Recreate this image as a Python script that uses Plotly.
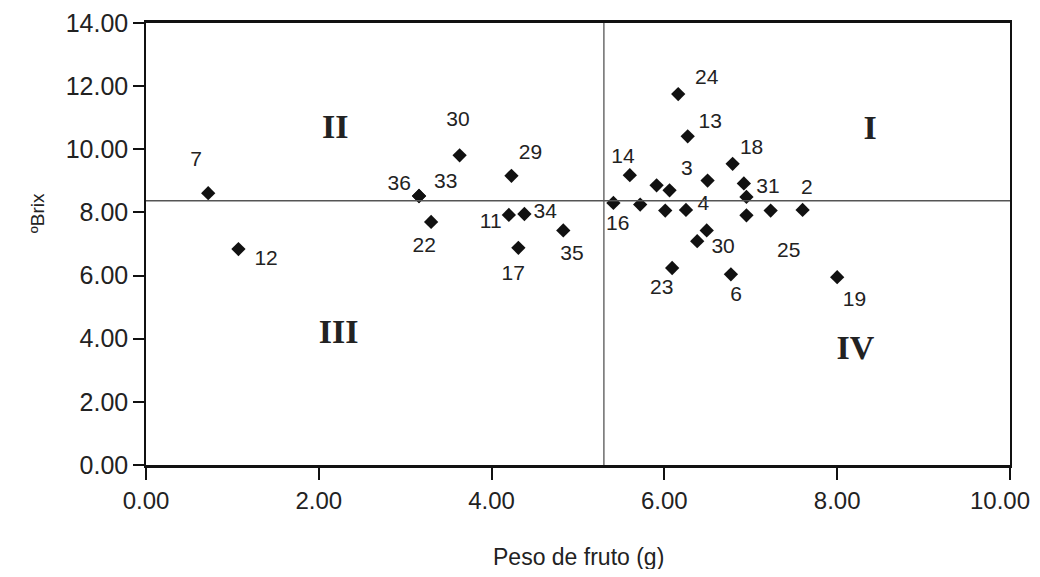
import plotly.graph_objects as go

# Data points (fruit weight g, ºBrix)
peso = [0.72, 1.07, 3.16, 3.16, 3.63, 3.30, 4.23, 4.20, 4.38, 4.31, 4.83,
        6.16, 6.27, 5.60, 5.41, 5.72, 5.91, 6.06, 6.01, 6.25, 6.50, 6.79,
        6.92, 6.95, 6.95, 7.23, 7.60, 6.49, 6.38, 6.09, 6.77, 8.00]
brix = [8.61, 6.84, 8.52, 8.52, 9.81, 7.70, 9.16, 7.92, 7.95, 6.88, 7.43,
        11.75, 10.41, 9.18, 8.30, 8.25, 8.86, 8.70, 8.06, 8.08, 9.01, 9.54,
        8.92, 8.49, 7.91, 8.06, 8.08, 7.43, 7.09, 6.24, 6.04, 5.95]

# Point labels (text and their positions in data units)
label_text = ["7", "12", "36", "33", "30", "22", "29", "11", "34", "17", "35",
              "24", "13", "14", "3", "18", "31", "2", "16", "4", "30", "25",
              "23", "6", "19"]
label_x = [0.58, 1.39, 2.93, 3.47, 3.61, 3.22, 4.45, 3.99, 4.62, 4.25, 4.93,
           6.49, 6.53, 5.52, 6.26, 7.01, 7.20, 7.65, 5.46, 6.45, 6.68, 7.44,
           5.97, 6.83, 8.20]
label_y = [9.63, 6.49, 8.87, 8.94, 10.92, 6.91, 9.85, 7.68, 7.98, 6.04, 6.67,
           12.22, 10.85, 9.73, 9.34, 10.01, 8.78, 8.76, 7.62, 8.25, 6.89, 6.75,
           5.58, 5.35, 5.20]

# Quadrant labels
quad_text = ["I", "II", "III", "IV"]
quad_x = [8.38, 2.19, 2.23, 8.21]
quad_y = [10.60, 10.64, 4.12, 3.64]

# Reference (mean) lines
mean_peso = 5.30
mean_brix = 8.37

x_ticks = [0, 2, 4, 6, 8, 10]
x_tick_labels = ["0.00", "2.00", "4.00", "6.00", "8.00", "10.00"]
y_ticks = [0, 2, 4, 6, 8, 10, 12, 14]

fig = go.Figure()

fig.add_trace(go.Scatter(
    x=peso, y=brix, mode="markers",
    marker=dict(symbol="diamond", size=11, color="#111111"),
    showlegend=False, hoverinfo="x+y"))

fig.add_trace(go.Scatter(
    x=label_x, y=label_y, mode="text", text=label_text,
    textposition="middle center",
    textfont=dict(family="Liberation Sans, Arial", size=21, color="#222222"),
    showlegend=False, hoverinfo="skip"))

fig.add_trace(go.Scatter(
    x=quad_x, y=quad_y, mode="text",
    text=["<b>%s</b>" % t for t in quad_text],
    textposition="middle center",
    textfont=dict(family="Liberation Serif, Times New Roman", size=34, color="#222222"),
    showlegend=False, hoverinfo="skip"))

fig.add_hline(y=mean_brix, line=dict(color="#555555", width=1.3))
fig.add_vline(x=mean_peso, line=dict(color="#555555", width=1.3))

title_font = dict(family="Liberation Sans, Arial", size=23, color="#222222")
xtick_font = dict(family="Liberation Sans, Arial", size=24, color="#222222")

# the last x label sits a little left of its tick (as in the reference),
# so it is drawn as an annotation anchored to that tick value
x_tick_text = x_tick_labels[:-1] + [""]

fig.update_xaxes(
    range=[0, 10.0005], tickvals=x_ticks, ticktext=x_tick_text,
    showgrid=False, zeroline=False, automargin=False,
    showline=True, linecolor="#111111", linewidth=2.5, mirror=True,
    ticks="outside", ticklen=12, tickwidth=2, tickcolor="#111111",
    tickfont=xtick_font, ticklabeloverflow="allow",
)
fig.update_yaxes(
    range=[0, 14.0005], tickvals=y_ticks, tickformat=".2f",
    showgrid=False, zeroline=False, automargin=False,
    showline=True, linecolor="#111111", linewidth=1.5, mirror=True,
    ticks="outside", ticklen=11, tickwidth=1.5, tickcolor="#111111",
    tickfont=dict(family="Liberation Sans, Arial", size=25, color="#222222"),
    ticklabeloverflow="allow",
)

fig.add_annotation(
    text=x_tick_labels[-1], x=x_ticks[-1], xref="x", y=0, yref="paper",
    xanchor="center", yanchor="middle", xshift=-10, yshift=-35,
    showarrow=False, font=xtick_font)

fig.add_annotation(
    text="Peso de fruto (g)", xref="paper", yref="paper", x=0.5, y=-0.208,
    xanchor="center", yanchor="middle", showarrow=False, font=title_font)

fig.add_annotation(
    text="ºBrix", xref="paper", yref="paper", x=-0.126, y=0.570,
    xanchor="center", yanchor="middle",
    textangle=-90, showarrow=False,
    font=dict(family="Liberation Sans, Arial", size=19, color="#222222"))

# The page adds an 8px body margin; the figure is sized so the plot area
# lands where the reference has it.
fig.update_layout(
    width=1032, height=561,
    margin=dict(l=138, r=30, t=15, b=104),
    plot_bgcolor="white", paper_bgcolor="white",
)

fig.write_html("out.html")
